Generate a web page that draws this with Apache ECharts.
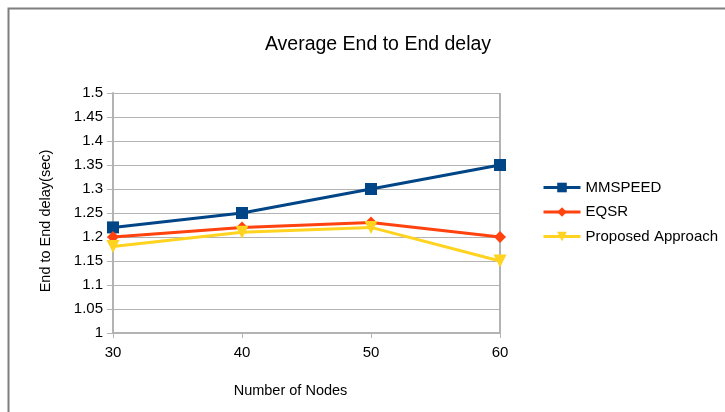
<!DOCTYPE html>
<html>
<head>
<meta charset="utf-8">
<script src="https://cdn.jsdelivr.net/npm/echarts@6/dist/echarts.min.js"></script>
<style>
  html, body { margin: 0; padding: 0; background: #fff; }
  #chart { width: 725px; height: 412px; }
</style>
</head>
<body>
<div id="chart"></div>
<script>
// Node counts on the x axis
const nodeCounts = ['30', '40', '50', '60'];

// Average end-to-end delay (sec) per protocol
const mmspeed = [1.22, 1.25, 1.30, 1.35];
const eqsr = [1.20, 1.22, 1.23, 1.20];
const proposed = [1.18, 1.21, 1.22, 1.15];

const FONT = '"Liberation Sans", Arial, sans-serif';
const GRID = '#b3b3b3';

const chart = echarts.init(document.getElementById('chart'));

function lineSeries(name, data, color, symbol, size, rotate) {
  return {
    name: name,
    type: 'line',
    data: data,
    symbol: symbol,
    symbolSize: size,
    symbolRotate: rotate || 0,
    showAllSymbol: true,
    lineStyle: { color: color, width: 3 },
    itemStyle: { color: color },
    emphasis: { disabled: true },
    animation: false
  };
}

chart.setOption({
  animation: false,
  graphic: [{
    type: 'rect',
    shape: { x: 8.5, y: 8.5, width: 800, height: 500 },
    style: { fill: 'none', stroke: '#7f7f7f', lineWidth: 2 },
    silent: true
  }],
  title: {
    text: 'Average End to End delay',
    left: 373,
    textAlign: 'center',
    top: 30,
    textStyle: { fontFamily: FONT, fontSize: 19.5, fontWeight: 'normal', color: '#000' }
  },
  legend: {
    orient: 'vertical',
    left: 542,
    top: 180,
    padding: 0,
    itemGap: 9.5,
    itemWidth: 37,
    itemHeight: 12,
    itemStyle: { borderWidth: 0 },
    lineStyle: { width: 3 },
    textStyle: { fontFamily: FONT, fontSize: 15, color: '#000' },
    data: ['MMSPEED', 'EQSR', 'Proposed Approach']
  },
  grid: { left: 113, top: 93, width: 387, height: 240, containLabel: false },
  xAxis: {
    type: 'category',
    data: nodeCounts,
    boundaryGap: false,
    name: 'Number of Nodes',
    nameLocation: 'middle',
    nameGap: 50,
    nameTextStyle: { fontFamily: FONT, fontSize: 14.5, color: '#000', padding: [0, 32, 0, 0] },
    axisLine: { lineStyle: { color: GRID, width: 2 } },
    axisTick: { show: true, length: 5, lineStyle: { color: GRID, width: 1 } },
    axisLabel: { fontFamily: FONT, fontSize: 15, color: '#000', margin: 12 },
    // only the closing line at the right edge of the plot
    splitLine: {
      show: true,
      interval: function (index) { return index === nodeCounts.length - 1; },
      lineStyle: { color: GRID, width: 2 }
    }
  },
  yAxis: {
    type: 'value',
    min: 1,
    max: 1.5,
    interval: 0.05,
    name: 'End to End delay(sec)',
    nameLocation: 'middle',
    nameRotate: 90,
    nameGap: 60,
    nameTextStyle: { fontFamily: FONT, fontSize: 14.5, color: '#000', padding: [0, 16, 0, 0] },
    axisLine: { show: true, lineStyle: { color: GRID, width: 2 } },
    axisTick: { show: true, length: 6, lineStyle: { color: GRID, width: 1 } },
    axisLabel: {
      fontFamily: FONT, fontSize: 15, color: '#000', margin: 10,
      formatter: function (v) { return String(parseFloat(v.toFixed(2))); }
    },
    splitLine: { show: true, lineStyle: { color: GRID, width: 1 } }
  },
  series: [
    lineSeries('MMSPEED', mmspeed, '#004586', 'rect', 12),
    lineSeries('EQSR', eqsr, '#ff420e', 'diamond', 12),
    lineSeries('Proposed Approach', proposed, '#ffd320', 'triangle', 13, 180)
  ]
});
</script>
</body>
</html>
